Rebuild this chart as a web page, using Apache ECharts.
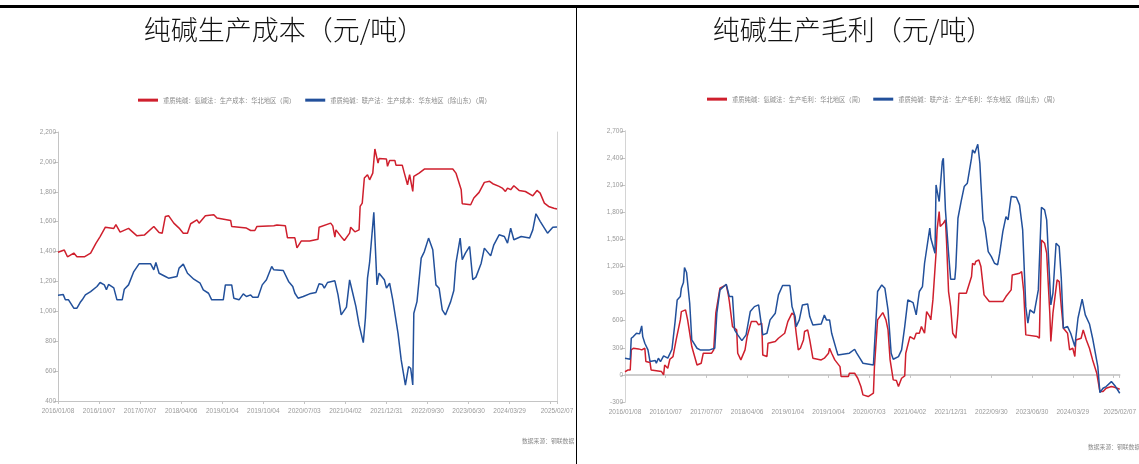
<!DOCTYPE html>
<html>
<head>
<meta charset="utf-8">
<script src="https://cdn.jsdelivr.net/npm/echarts@6/dist/echarts.min.js"></script>
<style>
html, body { margin: 0; padding: 0; background: #fff; }
#main { width: 1139px; height: 464px; }
</style>
</head>
<body>
<div id="main"></div>
<script>
// 周度数据，横轴按周序号(0 = 2016/01/08)
var tickLabels = ['2016/01/08', '2016/10/07', '2017/07/07', '2018/04/06', '2019/01/04', '2019/10/04',
    '2020/07/03', '2021/04/02', '2021/12/31', '2022/09/30', '2023/06/30', '2024/03/29', '2025/02/07'];
var weekStep = 39;
var weekMax = 474;

var costNames = ['重质纯碱：氨碱法：生产成本：华北地区（周）', '重质纯碱：联产法：生产成本：华东地区（除山东）（周）'];
var profitNames = ['重质纯碱：氨碱法：生产毛利：华北地区（周）', '重质纯碱：联产法：生产毛利：华东地区（除山东）（周）'];

// 生产成本：氨碱法 华北
var costNorth = [[0,1395],[6,1410],[9,1365],[15,1390],[18,1365],[25,1365],[31,1390],[36,1455],[40,1500],
    [45,1563],[53,1555],[55,1580],[59,1530],[67,1555],[75,1505],[82,1510],[91,1568],[96,1527],[99,1523],
    [102,1635],[105,1640],[110,1590],[115,1557],[119,1523],[123,1523],[126,1586],[132,1612],[134,1590],
    [140,1640],[148,1646],[151,1624],[164,1608],[165,1568],[179,1557],[183,1541],[187,1541],[189,1568],
    [205,1572],[208,1577],[216,1572],[218,1492],[225,1492],[227,1425],[228,1425],[231,1470],[239,1470],
    [247,1483],[248,1563],[259,1590],[261,1572],[263,1496],[264,1545],[270,1490],[272,1474],[277,1523],
    [278,1563],[282,1532],[286,1545],[287,1702],[289,1724],[291,1892],[294,1914],[296,1880],[299,1925],
    [301,2086],[304,1992],[305,2023],[312,2019],[313,1970],[315,2010],[320,2010],[321,1978],[327,1978],
    [329,1925],[332,1847],[334,1914],[337,1802],[338,1903],[343,1925],[348,1952],[359,1952],[375,1952],
    [378,1925],[383,1813],[384,1720],[392,1713],[395,1758],[400,1796],[405,1863],[410,1870],[413,1854],
    [419,1836],[422,1825],[425,1802],[427,1825],[430,1814],[433,1840],[438,1809],[444,1802],[451,1773],
    [455,1809],[458,1791],[462,1724],[466,1702],[471,1690],[474,1685]];

// 生产成本：联产法 华东(除山东)
var costEast = [[0,1108],[5,1112],[7,1077],[10,1077],[15,1021],[18,1021],[21,1059],[23,1077],[26,1110],
    [31,1132],[37,1166],[40,1193],[44,1177],[46,1144],[48,1180],[53,1157],[56,1077],[61,1077],[63,1148],
    [67,1177],[72,1266],[77,1318],[88,1318],[91,1278],[93,1327],[96,1255],[102,1233],[105,1222],[113,1233],
    [115,1289],[119,1316],[123,1255],[129,1215],[135,1188],[138,1144],[143,1121],[146,1077],[157,1077],
    [159,1177],[165,1177],[167,1088],[172,1077],[176,1117],[179,1099],[183,1110],[185,1094],[190,1094],
    [194,1177],[198,1211],[203,1300],[205,1278],[214,1273],[219,1200],[223,1166],[225,1121],[228,1088],
    [233,1099],[239,1117],[245,1126],[248,1184],[251,1180],[253,1155],[256,1193],[263,1204],[266,1110],
    [269,976],[270,965],[274,1028],[277,1211],[280,1121],[283,1032],[286,909],[290,791],[292,954],[294,1222],
    [296,1327],[300,1662],[303,1177],[305,1255],[310,1211],[312,1155],[315,1188],[318,1077],[323,853],
    [326,675],[330,507],[333,630],[335,619],[337,507],[338,987],[341,1065],[345,1356],[348,1400],[352,1490],
    [356,1412],[359,1177],[362,1155],[365,1010],[368,976],[373,1065],[376,1139],[378,1322],[382,1490],
    [384,1345],[387,1389],[391,1434],[394,1211],[397,1229],[402,1322],[405,1423],[411,1371],[414,1445],
    [419,1512],[424,1501],[427,1456],[430,1557],[433,1479],[440,1501],[448,1490],[451,1545],[454,1653],
    [458,1602],[465,1523],[470,1563],[474,1565]];

// 生产毛利：氨碱法 华北
var profitNorth = [[0,35],[3,55],[5,55],[6,277],[8,295],[13,288],[16,277],[19,295],[20,148],[24,137],[25,55],
    [35,37],[37,0],[38,110],[41,74],[43,173],[46,203],[49,387],[53,609],[54,701],[58,720],[60,609],[64,314],
    [69,110],[73,129],[75,240],[83,240],[85,277],[87,683],[91,960],[97,996],[99,886],[100,812],[103,535],
    [107,498],[108,240],[111,166],[115,277],[117,424],[121,590],[126,590],[128,553],[131,572],[132,221],
    [136,203],[137,350],[144,369],[147,406],[153,461],[156,590],[160,683],[162,664],[164,461],[166,277],
    [168,295],[171,387],[172,480],[175,498],[177,387],[180,185],[188,166],[191,185],[195,240],[196,295],
    [198,240],[201,166],[206,92],[207,-18],[214,-18],[215,18],[220,18],[223,-37],[226,-129],[228,-221],
    [233,-240],[238,-203],[239,92],[242,609],[247,690],[250,609],[252,498],[254,166],[257,-55],[260,-63],
    [262,-129],[265,-37],[268,-11],[269,240],[273,424],[277,395],[279,461],[282,461],[284,535],[287,461],
    [289,701],[292,646],[293,609],[295,830],[298,1347],[299,1605],[301,1808],[302,1642],[305,1679],
    [307,1716],[308,1494],[310,923],[312,757],[314,461],[317,406],[319,683],[320,904],[327,904],[332,1089],
    [333,1236],[335,1218],[336,1255],[339,1273],[341,1199],[344,886],[349,812],[362,812],[365,867],[370,941],
    [371,1107],[378,1125],[380,1144],[382,923],[384,443],[395,424],[397,406],[399,1494],[402,1458],
    [404,1347],[407,683],[408,369],[410,683],[414,1052],[416,1033],[418,756],[420,517],[424,461],[426,277],
    [429,295],[431,203],[432,387],[437,406],[439,498],[442,387],[445,295],[448,166],[452,18],[455,-185],
    [458,-185],[461,-148],[466,-129],[469,-137],[474,-159]];

// 生产毛利：联产法 华东(除山东)
var profitEast = [[0,185],[5,174],[6,406],[8,424],[11,461],[14,454],[16,542],[17,424],[19,350],[22,277],
    [24,148],[29,159],[30,129],[32,185],[34,148],[37,210],[41,185],[45,284],[48,590],[50,830],[53,867],
    [54,960],[56,1022],[57,1188],[59,1133],[62,793],[64,387],[69,295],[72,277],[81,277],[86,295],[88,683],
    [91,941],[97,1004],[100,867],[103,867],[105,498],[108,443],[112,380],[116,443],[120,701],[124,756],
    [128,775],[129,775],[132,443],[136,461],[139,609],[144,683],[147,886],[151,989],[158,989],[160,756],
    [163,646],[164,535],[167,609],[170,775],[175,786],[177,646],[180,553],[188,564],[191,664],[193,609],
    [196,609],[198,461],[203,258],[204,221],[215,240],[220,284],[222,240],[225,185],[228,129],[238,110],
    [239,314],[242,923],[246,996],[249,959],[252,720],[255,240],[257,173],[262,203],[265,277],[268,535],
    [271,830],[276,800],[279,664],[282,923],[285,978],[287,1236],[292,1624],[293,1513],[297,1347],[298,2103],
    [301,1919],[304,2362],[305,2399],[307,1827],[310,1347],[312,1059],[316,1059],[317,1199],[319,1734],
    [322,1919],[325,2085],[328,2122],[332,2399],[333,2491],[335,2454],[338,2553],[340,2343],[341,2122],
    [343,1716],[345,1624],[348,1365],[351,1310],[354,1236],[357,1218],[359,1347],[362,1587],[365,1753],
    [367,1716],[370,1974],[375,1966],[378,1882],[381,1605],[384,753],[386,572],[388,720],[392,683],[396,941],
    [399,1856],[402,1827],[404,1716],[408,775],[410,904],[413,1458],[416,1421],[418,1070],[420,517],
    [424,535],[427,461],[431,314],[434,627],[438,838],[441,664],[445,564],[448,406],[453,92],[455,-196],
    [458,-148],[461,-129],[466,-74],[470,-129],[474,-203]];

var red = '#cf1f2d';
var blue = '#22509b';
var axisGray = '#c4c4c4';
var labelGray = '#9a9a9a';
var cjk = '"Noto Sans CJK SC", sans-serif';

var myChart = echarts.init(document.getElementById('main'));

function dateLabel(v) {
    if (v === weekMax) return tickLabels[tickLabels.length - 1];
    var i = v / weekStep;
    if (i % 1 === 0 && i < tickLabels.length - 1) return tickLabels[i];
    return '';
}

function dateAxis(grid, opts) {
    var ax = {
        type: 'value', gridIndex: grid, min: 0, max: weekMax, interval: weekStep, position: 'bottom',
        splitLine: { show: false },
        axisLine: { show: true, onZero: false, lineStyle: { color: axisGray, width: 1 } },
        axisTick: { show: true, length: 3, lineStyle: { color: axisGray } },
        axisLabel: { show: true, formatter: dateLabel, color: labelGray, fontSize: 6.5, margin: 7, fontFamily: 'sans-serif', showMaxLabel: true, showMinLabel: true }
    };
    return echarts.util.merge(ax, opts || {}, true);
}

function numAxis(grid, min, max, step) {
    return {
        type: 'value', gridIndex: grid, min: min, max: max, interval: step,
        splitLine: { show: false },
        axisLine: { show: true, lineStyle: { color: axisGray } },
        axisTick: { show: true, length: 4, lineStyle: { color: axisGray } },
        axisLabel: { color: labelGray, fontSize: 6.5, margin: 2, fontFamily: 'sans-serif' }
    };
}

function borderAxis(grid, min, max) {
    return {
        type: 'value', gridIndex: grid, min: min, max: max, position: 'right',
        splitLine: { show: false },
        axisLine: { show: true, lineStyle: { color: '#d4d4d4' } },
        axisTick: { show: false }, axisLabel: { show: false }
    };
}

function lineSeries(name, color, xi, yi, data) {
    return {
        name: name, type: 'line', xAxisIndex: xi, yAxisIndex: yi, data: data,
        showSymbol: false, symbol: 'none', lineStyle: { color: color, width: 1.5 },
        itemStyle: { color: color }, animation: false
    };
}

var legendText = { color: '#8a8a8a', fontSize: 6.3, fontFamily: cjk };

var option = {
    animation: false,
    backgroundColor: '#fff',
    grid: [
        { left: 58, top: 132, width: 499, height: 269 },
        { left: 625, top: 131, width: 495, height: 271 }
    ],
    legend: [
        { data: costNames, left: 133, top: 92, icon: 'rect', itemWidth: 20, itemHeight: 3, itemGap: 10, textStyle: legendText },
        { data: profitNames, left: 702, top: 91, icon: 'rect', itemWidth: 20, itemHeight: 3, itemGap: 9, textStyle: legendText }
    ],
    xAxis: [
        dateAxis(0),
        // 右图零轴：线和刻度落在 0 处
        dateAxis(1, { position: 'top', axisLine: { onZero: true, lineStyle: { width: 1.5, color: '#bdbdbd' } }, axisTick: { inside: true }, axisLabel: { show: false } }),
        dateAxis(1, { axisLine: { show: false }, axisTick: { show: false } })
    ],
    yAxis: [
        numAxis(0, 400, 2200, 200),
        borderAxis(0, 400, 2200),
        numAxis(1, -300, 2700, 300),
        borderAxis(1, -300, 2700)
    ],
    series: [
        lineSeries(costNames[0], red, 0, 0, costNorth),
        lineSeries(costNames[1], blue, 0, 0, costEast),
        lineSeries(profitNames[0], red, 2, 2, profitNorth),
        lineSeries(profitNames[1], blue, 2, 2, profitEast)
    ],
    graphic: [
        { type: 'rect', shape: { x: 0, y: 5, width: 1139, height: 3 }, style: { fill: '#000' } },
        { type: 'rect', shape: { x: 576, y: 5, width: 1, height: 459 }, style: { fill: '#000' } },
        { type: 'text', x: 284, y: 30, style: { text: '纯碱生产成本（元/吨）', font: '300 27px ' + cjk, fill: '#111', align: 'center', verticalAlign: 'middle' } },
        { type: 'text', x: 853, y: 30, style: { text: '纯碱生产毛利（元/吨）', font: '300 27px ' + cjk, fill: '#111', align: 'center', verticalAlign: 'middle' } },
        { type: 'text', x: 522, y: 441, style: { text: '数据来源：钢联数据', font: '5.8px ' + cjk, fill: '#8a8a8a', verticalAlign: 'middle' } },
        { type: 'text', x: 1088, y: 447, style: { text: '数据来源：钢联数据', font: '5.8px ' + cjk, fill: '#8a8a8a', verticalAlign: 'middle' } }
    ]
};

myChart.setOption(option);
</script>
</body>
</html>
